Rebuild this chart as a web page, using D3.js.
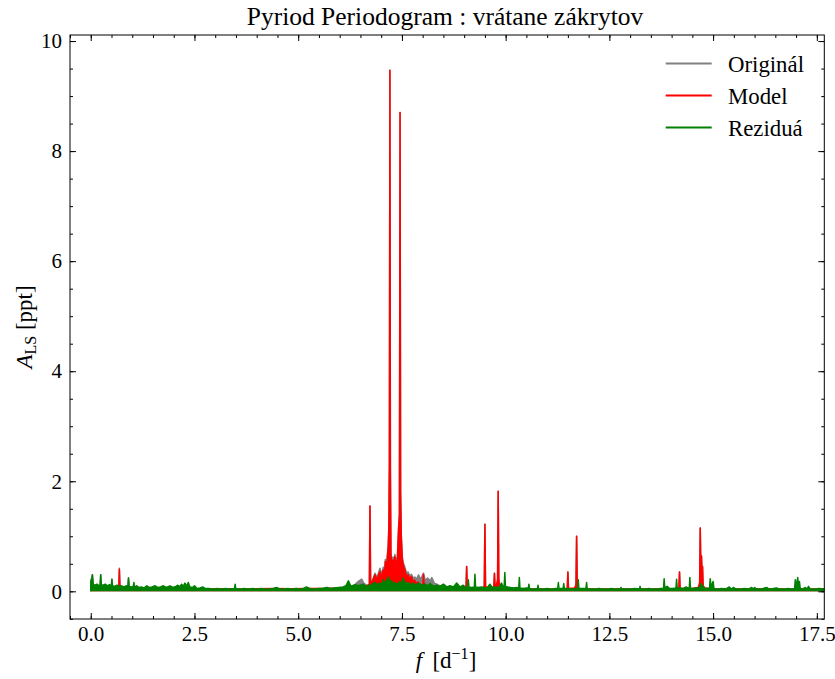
<!DOCTYPE html>
<html>
<head>
<meta charset="utf-8">
<script src="https://cdn.jsdelivr.net/npm/d3@7"></script>
<style>
  html, body { margin: 0; padding: 0; background: #fff; }
  svg { display: block; font-family: "Liberation Serif", "Times New Roman", serif; }
</style>
</head>
<body>
<svg id="chart" width="835" height="679"></svg>
<script>
// Lomb–Scargle amplitude spectra: frequency [1/d], amplitude [ppt]
const seriesNames = ["Originál", "Model", "Reziduá"];
const seriesColors = ["#808080", "#ff0000", "#008000"];

const originalPts = [
  [0.000,0.00],[0.005,0.20],[0.04,0.30],[0.06,0.05],[0.225,0.05],[0.24,0.30],[0.255,0.05],[0.495,0.05],
  [0.51,0.22],[0.525,0.05],[0.675,0.05],[0.69,0.42],[0.705,0.05],[0.895,0.05],[0.91,0.24],[0.925,0.05],
  [2.50,0.05],[2.60,0.035],[6.00,0.04],[6.20,0.08],[6.35,0.11],[6.45,0.18],[6.53,0.22],[6.58,0.15],
  [6.65,0.11],[6.715,0.12],[6.73,1.55],[6.745,0.15],[6.80,0.22],[6.85,0.33],[6.90,0.25],[6.97,0.42],
  [7.01,0.30],[7.05,0.44],[7.08,0.34],[7.10,0.58],[7.13,0.46],[7.15,0.67],[7.17,0.85],[7.185,1.17],
  [7.198,2.30],[7.21,9.47],[7.222,2.20],[7.235,0.70],[7.26,0.58],[7.29,0.62],[7.31,0.52],[7.33,0.67],
  [7.36,0.55],[7.39,0.62],[7.42,1.15],[7.44,1.40],[7.455,8.70],[7.468,1.81],[7.485,1.00],[7.51,0.62],
  [7.54,0.50],[7.57,0.44],[7.61,0.34],[7.65,0.35],[7.69,0.28],[7.73,0.31],[7.77,0.24],[7.81,0.26],
  [7.85,0.22],[7.90,0.30],[7.95,0.22],[8.02,0.33],[8.06,0.20],[8.12,0.24],[8.18,0.19],[8.22,0.25],
  [8.28,0.15],[8.34,0.13],[8.42,0.10],[8.55,0.07],[8.70,0.05],[9.045,0.05],[9.06,0.45],[9.075,0.05],
  [9.485,0.06],[9.50,1.22],[9.515,0.06],[9.715,0.06],[9.73,0.33],[9.745,0.06],[9.805,0.10],[9.82,1.82],
  [9.835,0.10],[9.90,0.05],[10.50,0.035],[11.485,0.035],[11.50,0.35],[11.515,0.035],[11.695,0.05],
  [11.71,1.00],[11.725,0.05],[11.76,0.035],[14.175,0.035],[14.19,0.35],[14.205,0.035],[14.675,0.06],
  [14.69,1.15],[14.705,0.40],[14.72,0.64],[14.735,0.30],[14.745,0.45],[14.76,0.06],[14.80,0.035],
  [17.68,0.035]
];

const modelPts = [
  [0.00,0.02],[0.30,0.02],[0.675,0.02],[0.69,0.40],[0.705,0.02],[1.00,0.02],[2.00,0.03],[2.80,0.04],
  [3.20,0.045],[3.60,0.04],[4.00,0.045],[4.40,0.05],[4.80,0.045],[5.20,0.05],[5.60,0.05],[6.00,0.06],
  [6.30,0.07],[6.50,0.09],[6.65,0.10],[6.715,0.12],[6.73,1.55],[6.745,0.14],[6.80,0.20],[6.85,0.30],
  [6.90,0.22],[6.97,0.36],[7.01,0.26],[7.05,0.39],[7.08,0.30],[7.10,0.54],[7.13,0.42],[7.15,0.63],
  [7.17,0.81],[7.185,1.17],[7.198,2.30],[7.21,9.47],[7.222,2.20],[7.235,0.66],[7.26,0.50],[7.29,0.57],
  [7.31,0.45],[7.33,0.63],[7.36,0.48],[7.39,0.57],[7.42,1.15],[7.44,1.40],[7.455,8.70],[7.468,1.81],
  [7.485,1.00],[7.51,0.57],[7.54,0.45],[7.57,0.39],[7.61,0.28],[7.65,0.30],[7.69,0.22],[7.73,0.27],
  [7.77,0.18],[7.81,0.20],[7.85,0.14],[7.89,0.17],[7.95,0.12],[8.005,0.12],[8.02,0.31],[8.035,0.11],
  [8.10,0.09],[8.18,0.08],[8.26,0.07],[8.34,0.06],[8.50,0.05],[8.70,0.05],[8.90,0.05],[9.045,0.05],
  [9.06,0.45],[9.075,0.05],[9.20,0.05],[9.35,0.05],[9.46,0.06],[9.485,0.10],[9.50,1.22],[9.515,0.10],
  [9.55,0.06],[9.65,0.06],[9.715,0.08],[9.73,0.33],[9.745,0.10],[9.78,0.12],[9.805,0.22],[9.82,1.82],
  [9.835,0.22],[9.86,0.10],[9.92,0.06],[10.10,0.05],[10.40,0.04],[10.80,0.04],[11.20,0.04],[11.485,0.05],
  [11.50,0.35],[11.515,0.05],[11.66,0.06],[11.695,0.12],[11.71,1.00],[11.725,0.12],[11.76,0.05],
  [12.00,0.04],[12.50,0.04],[13.00,0.04],[13.50,0.04],[14.00,0.04],[14.175,0.05],[14.19,0.35],
  [14.205,0.05],[14.50,0.05],[14.64,0.07],[14.675,0.15],[14.69,1.15],[14.705,0.40],[14.72,0.64],
  [14.735,0.30],[14.745,0.45],[14.76,0.10],[14.80,0.06],[15.00,0.04],[15.50,0.04],[16.00,0.04],
  [16.50,0.04],[17.00,0.04],[17.68,0.04]
];

const residualPts = [
  [0.000,0.00],[0.005,0.20],[0.02,0.14],[0.04,0.30],[0.06,0.13],[0.10,0.11],[0.15,0.13],[0.20,0.10],
  [0.225,0.12],[0.24,0.30],[0.255,0.12],[0.30,0.11],[0.35,0.13],[0.40,0.10],[0.45,0.12],[0.495,0.10],
  [0.51,0.22],[0.525,0.10],[0.58,0.09],[0.63,0.11],[0.69,0.09],[0.74,0.10],[0.80,0.08],[0.85,0.10],
  [0.895,0.09],[0.91,0.24],[0.925,0.09],[0.97,0.08],[1.025,0.09],[1.04,0.16],[1.055,0.08],[1.11,0.10],
  [1.16,0.07],[1.22,0.08],[1.28,0.06],[1.35,0.10],[1.41,0.07],[1.48,0.08],[1.55,0.10],[1.61,0.07],
  [1.68,0.08],[1.75,0.10],[1.82,0.07],[1.91,0.10],[1.98,0.07],[2.05,0.09],[2.10,0.11],[2.15,0.08],
  [2.19,0.13],[2.23,0.09],[2.27,0.15],[2.31,0.09],[2.35,0.16],[2.39,0.08],[2.45,0.07],[2.50,0.10],
  [2.56,0.05],[2.63,0.06],[2.70,0.08],[2.76,0.05],[2.85,0.05],[2.95,0.04],[3.05,0.05],[3.15,0.04],
  [3.25,0.05],[3.35,0.04],[3.465,0.05],[3.48,0.13],[3.495,0.05],[3.60,0.04],[3.70,0.05],[3.80,0.04],
  [3.90,0.05],[4.00,0.04],[4.10,0.05],[4.20,0.04],[4.30,0.04],[4.40,0.05],[4.48,0.07],[4.56,0.04],
  [4.65,0.04],[4.75,0.05],[4.85,0.04],[4.95,0.05],[5.05,0.04],[5.12,0.05],[5.20,0.08],[5.28,0.05],
  [5.38,0.04],[5.48,0.05],[5.58,0.05],[5.69,0.07],[5.78,0.05],[5.88,0.06],[5.98,0.07],[6.08,0.08],
  [6.15,0.10],[6.21,0.19],[6.27,0.09],[6.37,0.12],[6.45,0.10],[6.57,0.13],[6.63,0.09],[6.69,0.10],
  [6.76,0.12],[6.85,0.16],[6.91,0.12],[6.97,0.15],[7.02,0.13],[7.05,0.21],[7.10,0.14],[7.17,0.26],
  [7.21,0.15],[7.25,0.20],[7.29,0.13],[7.33,0.16],[7.39,0.12],[7.45,0.18],[7.49,0.13],[7.53,0.24],
  [7.58,0.14],[7.65,0.16],[7.71,0.12],[7.77,0.15],[7.83,0.11],[7.90,0.15],[7.98,0.11],[8.06,0.13],
  [8.12,0.10],[8.18,0.14],[8.26,0.09],[8.34,0.11],[8.42,0.09],[8.50,0.13],[8.58,0.08],[8.66,0.10],
  [8.74,0.08],[8.82,0.15],[8.90,0.08],[8.98,0.11],[9.04,0.07],[9.085,0.08],[9.10,0.21],[9.115,0.08],
  [9.18,0.07],[9.245,0.08],[9.26,0.31],[9.275,0.08],[9.34,0.07],[9.42,0.08],[9.50,0.06],[9.56,0.07],
  [9.62,0.13],[9.68,0.07],[9.75,0.08],[9.80,0.07],[9.86,0.09],[9.90,0.15],[9.94,0.08],[9.965,0.09],
  [9.98,0.34],[9.995,0.09],[10.05,0.08],[10.12,0.07],[10.20,0.06],[10.26,0.07],[10.315,0.06],[10.33,0.25],
  [10.345,0.06],[10.42,0.05],[10.50,0.06],[10.545,0.05],[10.56,0.13],[10.575,0.05],[10.66,0.04],
  [10.765,0.05],[10.78,0.11],[10.795,0.04],[10.90,0.04],[11.00,0.05],[11.10,0.04],[11.20,0.05],
  [11.255,0.05],[11.27,0.16],[11.285,0.05],[11.385,0.05],[11.40,0.14],[11.415,0.05],[11.50,0.05],
  [11.60,0.04],[11.735,0.05],[11.75,0.21],[11.765,0.05],[11.85,0.05],[11.935,0.05],[11.95,0.16],
  [11.965,0.05],[12.05,0.04],[12.15,0.04],[12.25,0.05],[12.35,0.04],[12.45,0.04],[12.55,0.05],
  [12.65,0.04],[12.765,0.04],[12.78,0.07],[12.795,0.04],[12.90,0.04],[13.00,0.04],[13.10,0.05],
  [13.225,0.04],[13.24,0.09],[13.255,0.04],[13.35,0.04],[13.45,0.05],[13.55,0.04],[13.65,0.04],
  [13.73,0.05],[13.805,0.05],[13.82,0.23],[13.835,0.06],[13.89,0.09],[13.95,0.05],[14.03,0.05],
  [14.105,0.06],[14.12,0.22],[14.135,0.06],[14.20,0.06],[14.27,0.05],[14.35,0.08],[14.425,0.05],
  [14.44,0.25],[14.455,0.05],[14.52,0.05],[14.60,0.06],[14.68,0.07],[14.71,0.14],[14.78,0.06],
  [14.85,0.05],[14.915,0.06],[14.93,0.23],[14.95,0.08],[15.00,0.18],[15.02,0.05],[15.10,0.04],
  [15.20,0.05],[15.30,0.04],[15.39,0.08],[15.44,0.04],[15.49,0.07],[15.55,0.04],[15.65,0.04],
  [15.75,0.05],[15.85,0.04],[15.93,0.07],[15.97,0.04],[16.00,0.07],[16.05,0.04],[16.15,0.04],
  [16.29,0.07],[16.35,0.04],[16.45,0.05],[16.53,0.06],[16.60,0.04],[16.70,0.04],[16.80,0.05],
  [16.90,0.04],[16.965,0.05],[16.98,0.21],[17.00,0.08],[17.04,0.25],[17.06,0.08],[17.08,0.18],
  [17.10,0.05],[17.16,0.04],[17.22,0.07],[17.26,0.04],[17.30,0.09],[17.34,0.04],[17.45,0.04],
  [17.55,0.05],[17.68,0.04]
];

const xTicks = [0.0, 2.5, 5.0, 7.5, 10.0, 12.5, 15.0, 17.5];
const yTicks = [0, 2, 4, 6, 8, 10];
const xMinorTicks = d3.range(-0.5, 17.51, 0.5);
const yMinorTicks = d3.range(-0.5, 10.01, 0.5);

const titleText = "Pyriod Periodogram : vrátane zákrytov";

// layout
const svg = d3.select("#chart");
const L = 70, R = 824.3, T = 35, B = 619;
const x = d3.scaleLinear().domain([-0.5, 17.68]).range([L, R]);
const y = d3.scaleLinear().domain([-0.503, 10.11]).range([B, T]);
const FS_TICK = 21, FS_TEXT = 23, FS_LEGEND = 22.8, FS_TITLE = 25.5;

svg.append("clipPath").attr("id", "plotClip")
  .append("rect").attr("x", L).attr("y", T).attr("width", R - L).attr("height", B - T);

// spectra: dense periodogram drawn as filled trace plus outline
const plot = svg.append("g").attr("clip-path", "url(#plotClip)");
const area = d3.area().x(d => x(d[0])).y0(y(0)).y1(d => y(d[1]));
const line = d3.line().x(d => x(d[0])).y(d => y(d[1]));
[originalPts, modelPts, residualPts].forEach((pts, i) => {
  plot.append("path").datum(pts).attr("d", area)
    .attr("fill", seriesColors[i]).attr("stroke", "none");
  plot.append("path").datum(pts).attr("d", line)
    .attr("fill", "none").attr("stroke", seriesColors[i])
    .attr("stroke-width", 1.5).attr("stroke-linejoin", "round");
});

// axes with inward ticks on every side
function styleAxis(g) {
  g.select(".domain").remove();
  g.selectAll(".tick line").attr("stroke", "#000").attr("stroke-width", 1);
  g.selectAll(".tick text").attr("fill", "#000")
    .attr("font-family", "Liberation Serif, serif").attr("font-size", FS_TICK);
}
const major = 6, minor = 3;
svg.append("g").attr("transform", `translate(0,${B})`)
  .call(d3.axisBottom(x).tickValues(xMinorTicks).tickSize(-minor).tickFormat(""))
  .call(styleAxis);
svg.append("g").attr("transform", `translate(0,${B})`)
  .call(d3.axisBottom(x).tickValues(xTicks).tickSize(-major).tickPadding(6.6).tickFormat(d3.format(".1f")))
  .call(styleAxis);
svg.append("g").attr("transform", `translate(0,${T})`)
  .call(d3.axisTop(x).tickValues(xMinorTicks).tickSize(-minor).tickFormat(""))
  .call(styleAxis);
svg.append("g").attr("transform", `translate(0,${T})`)
  .call(d3.axisTop(x).tickValues(xTicks).tickSize(-major).tickFormat(""))
  .call(styleAxis);
svg.append("g").attr("transform", `translate(${L},0)`)
  .call(d3.axisLeft(y).tickValues(yMinorTicks).tickSize(-minor).tickFormat(""))
  .call(styleAxis);
svg.append("g").attr("transform", `translate(${L},0)`)
  .call(d3.axisLeft(y).tickValues(yTicks).tickSize(-major).tickPadding(8).tickFormat(d3.format("d")))
  .call(styleAxis);
svg.append("g").attr("transform", `translate(${R},0)`)
  .call(d3.axisRight(y).tickValues(yMinorTicks).tickSize(-minor).tickFormat(""))
  .call(styleAxis);
svg.append("g").attr("transform", `translate(${R},0)`)
  .call(d3.axisRight(y).tickValues(yTicks).tickSize(-major).tickFormat(""))
  .call(styleAxis);

// frame
svg.append("rect").attr("x", L).attr("y", T).attr("width", R - L).attr("height", B - T)
  .attr("fill", "none").attr("stroke", "#000").attr("stroke-width", 1);

// title
svg.append("text").attr("x", 445).attr("y", 25).attr("text-anchor", "middle")
  .attr("font-size", FS_TITLE).text(titleText);

// x label: f [d^-1]
const xl = svg.append("text").attr("x", 446).attr("y", 668)
  .attr("text-anchor", "middle").attr("font-size", FS_TEXT);
xl.append("tspan").attr("font-style", "italic").text("f");
xl.append("tspan").text("\u2009 [d");
xl.append("tspan").attr("font-size", 16).attr("dy", -9).text("\u22121");
xl.append("tspan").attr("dy", 9).text("]");

// y label: A_LS [ppt]
const yl = svg.append("text")
  .attr("transform", `translate(32,${(T + B) / 2}) rotate(-90)`)
  .attr("text-anchor", "middle").attr("font-size", FS_TEXT);
yl.append("tspan").attr("font-style", "italic").text("A");
yl.append("tspan").attr("font-size", 16).attr("dy", 4).text("LS");
yl.append("tspan").attr("dy", -4).text(" [ppt]");

// legend
const legend = svg.append("g");
seriesNames.forEach((name, i) => {
  const ly = 63.5 + i * 32;
  legend.append("line").attr("x1", 665.7).attr("x2", 711.7).attr("y1", ly).attr("y2", ly)
    .attr("stroke", seriesColors[i]).attr("stroke-width", 2);
  legend.append("text").attr("x", 728).attr("y", ly + 8.5).attr("font-size", FS_LEGEND).text(name);
});
</script>
</body>
</html>
